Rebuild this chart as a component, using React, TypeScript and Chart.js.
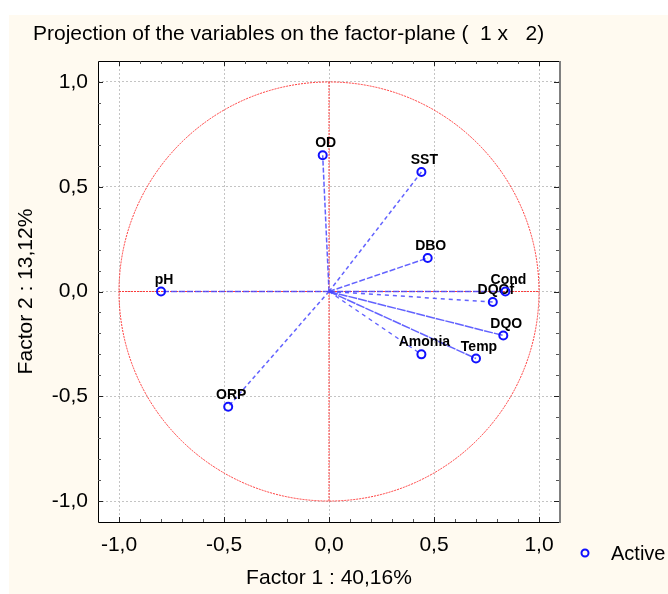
import { useEffect, useRef } from "react";
import { Chart, registerables } from "chart.js";

Chart.register(...registerables);

// Variable loadings on the first two factors
const VARIABLES = ["OD", "SST", "DBO", "pH", "Cond", "DQOf", "DQO", "Amonia", "Temp", "ORP"];
const FACTOR1 = [-0.03, 0.44, 0.47, -0.8, 0.84, 0.78, 0.83, 0.44, 0.7, -0.48];
const FACTOR2 = [0.65, 0.57, 0.16, 0.0, 0.0, -0.05, -0.21, -0.3, -0.32, -0.55];

const TICK_VALUES = [-1, -0.5, 0, 0.5, 1];
const TICK_LABELS = ["-1,0", "-0,5", "0,0", "0,5", "1,0"];

const TITLE = "Projection of the variables on the factor-plane (  1 x   2)";
const X_TITLE = "Factor 1 : 40,16%";
const Y_TITLE = "Factor 2 : 13,12%";
const SERIES_NAME = "Active";

// dash pattern of each vector drawn from the origin
const VECTOR_DASH = [
  [5, 2], [4, 3], [6, 2], [6, 2], [6, 2], [4, 4], [9, 1], [4, 4], [9, 1], [4, 3],
];

const FONT = '"Liberation Sans", Arial, sans-serif';
const POINT_BLUE = "#1010ff";
const VECTOR_BLUE = "rgba(70,70,255,0.85)";

const decorPlugin = {
  id: "decor",
  beforeDraw(chart: any) {
    const { ctx, width, height, chartArea: a } = chart;
    ctx.save();
    ctx.fillStyle = "#ffffff";
    ctx.fillRect(0, 0, width, height);
    ctx.fillStyle = "#fffaf0";
    ctx.fillRect(9, 15, width - 9, height - 15);
    ctx.fillStyle = "#ffffff";
    ctx.fillRect(a.left, a.top, a.right - a.left, a.bottom - a.top);
    ctx.restore();
  },
  beforeDatasetsDraw(chart: any) {
    const { ctx, chartArea: a } = chart;
    const xs = chart.scales.x;
    const ys = chart.scales.y;
    const cx = xs.getPixelForValue(0);
    const cy = ys.getPixelForValue(0);
    const rx = xs.getPixelForValue(1) - cx;
    const ry = cy - ys.getPixelForValue(1);
    ctx.save();
    ctx.beginPath();
    ctx.rect(a.left, a.top, a.right - a.left, a.bottom - a.top);
    ctx.clip();
    ctx.strokeStyle = "rgba(255,50,50,0.95)";
    ctx.lineWidth = 1;
    ctx.setLineDash([2, 1]);
    // unit circle of correlations
    ctx.beginPath();
    ctx.ellipse(cx, cy, rx, ry, 0, 0, Math.PI * 2);
    ctx.stroke();
    // axes through the origin
    ctx.beginPath();
    ctx.moveTo(xs.getPixelForValue(-1), cy);
    ctx.lineTo(xs.getPixelForValue(1), cy);
    ctx.moveTo(cx, ys.getPixelForValue(1));
    ctx.lineTo(cx, ys.getPixelForValue(-1));
    ctx.stroke();
    ctx.restore();
  },
  beforeDatasetDraw(chart: any, args: any) {
    if (args.index !== 0) return;
    const { ctx } = chart;
    const meta = chart.getDatasetMeta(0);
    ctx.save();
    ctx.font = `bold 14px ${FONT}`;
    ctx.fillStyle = "#000";
    ctx.textAlign = "center";
    ctx.textBaseline = "alphabetic";
    meta.data.forEach((el: any, i: number) => {
      ctx.fillText(VARIABLES[i], el.x + 3, el.y - 8);
    });
    ctx.restore();
  },
  afterDraw(chart: any) {
    const { ctx, chartArea: a } = chart;
    const xs = chart.scales.x;
    const ys = chart.scales.y;
    ctx.save();
    // frame
    ctx.setLineDash([]);
    ctx.strokeStyle = "#000";
    ctx.lineWidth = 1;
    ctx.beginPath();
    ctx.moveTo(a.right, a.top + 0.5);
    ctx.lineTo(a.left + 0.5, a.top + 0.5);
    ctx.lineTo(a.left + 0.5, a.bottom + 0.5);
    ctx.lineTo(a.right, a.bottom + 0.5);
    ctx.stroke();
    ctx.strokeStyle = "#808080";
    ctx.lineWidth = 2;
    ctx.beginPath();
    ctx.moveTo(a.right, a.top);
    ctx.lineTo(a.right, a.bottom + 1);
    ctx.stroke();

    // inner tick marks every 0.1, longer at every 0.5
    ctx.lineWidth = 1;
    for (let i = -10; i <= 10; i++) {
      const v = i / 10;
      const major = i % 5 === 0;
      const len = major ? 5 : 3;
      ctx.strokeStyle = major ? "#222" : "#555";
      const px = Math.round(xs.getPixelForValue(v)) + 0.5;
      const py = Math.round(ys.getPixelForValue(v)) + 0.5;
      ctx.beginPath();
      ctx.moveTo(px, a.bottom);
      ctx.lineTo(px, a.bottom - len);
      ctx.moveTo(px, a.top);
      ctx.lineTo(px, a.top + len);
      ctx.moveTo(a.left, py);
      ctx.lineTo(a.left + len, py);
      ctx.moveTo(a.right - 1, py);
      ctx.lineTo(a.right - 1 - len, py);
      ctx.stroke();
    }

    // titles
    ctx.fillStyle = "#000";
    ctx.font = `21px ${FONT}`;
    ctx.textAlign = "left";
    ctx.textBaseline = "alphabetic";
    ctx.fillText(TITLE, 33, 40);

    ctx.font = `21px ${FONT}`;
    ctx.textAlign = "center";
    ctx.textBaseline = "middle";
    ctx.fillText(X_TITLE, (a.left + a.right) / 2, 578);
    ctx.save();
    ctx.translate(26, (a.top + a.bottom) / 2);
    ctx.rotate(-Math.PI / 2);
    ctx.fillText(Y_TITLE, 0, 0);
    ctx.restore();

    // legend
    ctx.strokeStyle = POINT_BLUE;
    ctx.lineWidth = 2;
    ctx.beginPath();
    ctx.arc(585, 553, 3.5, 0, Math.PI * 2);
    ctx.stroke();
    ctx.font = `20px ${FONT}`;
    ctx.textAlign = "left";
    ctx.fillText(SERIES_NAME, 611, 554);
    ctx.restore();
  },
};

function fixedTicks(scale: any) {
  scale.ticks = TICK_VALUES.map((value) => ({ value }));
}

export default function App() {
  const canvasRef = useRef<HTMLCanvasElement | null>(null);

  useEffect(() => {
    document.body.style.margin = "0";
    const canvas = canvasRef.current;
    if (!canvas) return;

    const vectorSets = VARIABLES.map((name, i) => ({
      label: name,
      data: [
        { x: 0, y: 0 },
        { x: FACTOR1[i], y: FACTOR2[i] },
      ],
      showLine: true,
      borderColor: VECTOR_BLUE,
      borderWidth: 1.5,
      borderDash: VECTOR_DASH[i],
      pointRadius: 0,
      pointHoverRadius: 0,
      fill: false,
    }));

    const chart = new Chart(canvas, {
      type: "scatter",
      data: {
        datasets: [
          {
            label: SERIES_NAME,
            data: VARIABLES.map((_, i) => ({ x: FACTOR1[i], y: FACTOR2[i] })),
            pointRadius: 4,
            pointHoverRadius: 4,
            pointBorderWidth: 2,
            borderColor: POINT_BLUE,
            backgroundColor: "rgba(0,0,0,0)",
            showLine: false,
          },
          ...vectorSets,
        ],
      },
      options: {
        animation: false,
        responsive: false,
        maintainAspectRatio: false,
        devicePixelRatio: 1,
        events: [],
        layout: { padding: { top: 61, right: 108, left: 0, bottom: 0 } },
        plugins: {
          legend: { display: false },
          tooltip: { enabled: false },
          title: { display: false },
        },
        scales: {
          x: {
            type: "linear",
            position: "bottom",
            min: -1.1,
            max: 1.1,
            afterBuildTicks: fixedTicks,
            afterFit: (s: any) => {
              s.height = 72;
            },
            grid: { color: "#c4c4c4", lineWidth: 1, drawTicks: false },
            border: { display: false, dash: [2, 2] },
            ticks: {
              color: "#000",
              font: { family: FONT, size: 21 },
              padding: 11,
              maxRotation: 0,
              autoSkip: false,
              callback: (_v: any, i: number) => TICK_LABELS[i],
            },
          },
          y: {
            type: "linear",
            position: "left",
            min: -1.1,
            max: 1.1,
            afterBuildTicks: fixedTicks,
            afterFit: (s: any) => {
              s.width = 98;
            },
            grid: { color: "#c4c4c4", lineWidth: 1, drawTicks: false },
            border: { display: false, dash: [2, 2] },
            ticks: {
              color: "#000",
              font: { family: FONT, size: 21 },
              padding: 10,
              autoSkip: false,
              callback: (_v: any, i: number) => TICK_LABELS[i],
            },
          },
        },
      },
      plugins: [decorPlugin],
    } as any);

    return () => chart.destroy();
  }, []);

  return (
    <div style={{ width: 668, height: 594 }}>
      <canvas ref={canvasRef} width={668} height={594} style={{ display: "block" }} />
    </div>
  );
}
